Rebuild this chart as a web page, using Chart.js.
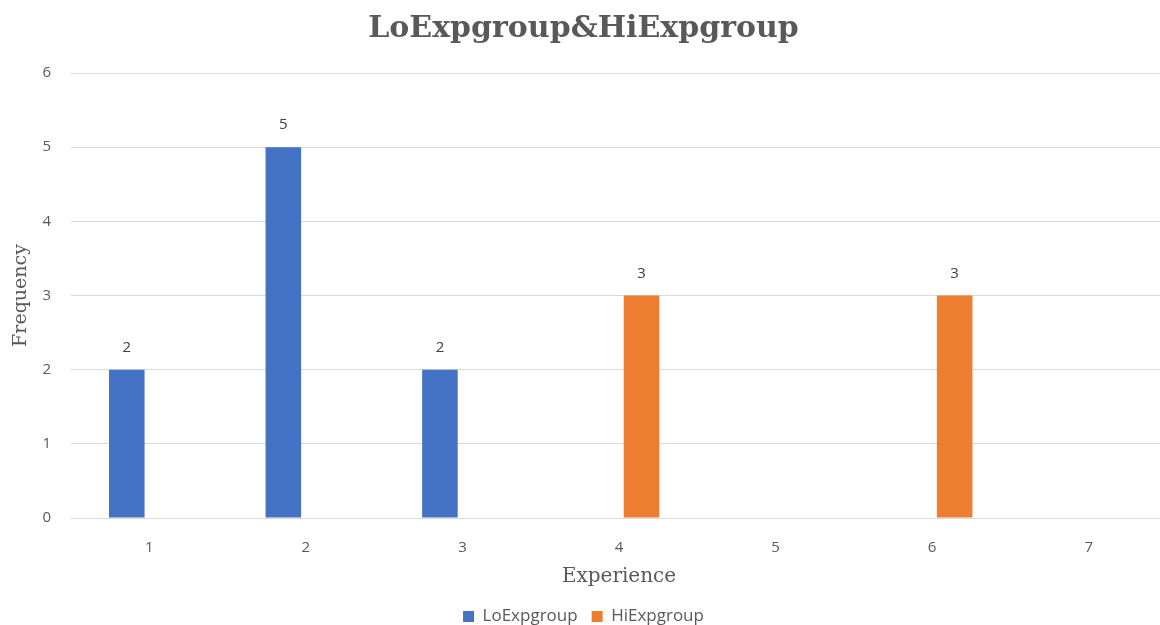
<!DOCTYPE html>
<html>
<head>
<meta charset="utf-8">
<script src="https://cdn.jsdelivr.net/npm/chart.js@4.4.1/dist/chart.umd.min.js"></script>
<style>
  html, body { margin: 0; padding: 0; background: #fff; overflow: hidden; }
  #wrap { position: relative; width: 1168px; height: 636px; }
</style>
</head>
<body>
<div id="wrap"><canvas id="c"></canvas></div>
<script>
// Experience levels on the x axis
const categories = ['1', '2', '3', '4', '5', '6', '7'];
// Frequency per experience level for each group
const loExpValues = [2, 5, 2, null, null, null, null];
const hiExpValues = [null, null, null, 3, null, 3, null];
const yTicks = [0, 1, 2, 3, 4, 5, 6];

const textColor = '#595959';
const sansFont = "'Open Sans', 'Noto Sans', sans-serif";
const serifFont = "'DejaVu Serif', 'Liberation Serif', serif";

// Writes each bar's value just above it
const valueLabels = {
  id: 'valueLabels',
  afterDatasetsDraw(chart) {
    const ctx = chart.ctx;
    ctx.save();
    ctx.fillStyle = '#404040';
    ctx.font = '15px ' + sansFont;
    ctx.textAlign = 'center';
    ctx.textBaseline = 'middle';
    chart.data.datasets.forEach((ds, i) => {
      const meta = chart.getDatasetMeta(i);
      meta.data.forEach((bar, j) => {
        const v = ds.data[j];
        if (v === null || v === undefined) return;
        ctx.fillText(String(v), bar.x, bar.y - 22);
      });
    });
    ctx.restore();
  }
};

new Chart(document.getElementById('c'), {
  type: 'bar',
  data: {
    labels: categories,
    datasets: [
      { label: 'LoExpgroup', data: loExpValues, backgroundColor: '#4472C4' },
      { label: 'HiExpgroup', data: hiExpValues, backgroundColor: '#ED7D31' }
    ]
  },
  options: {
    responsive: true,
    maintainAspectRatio: false,
    animation: false,
    devicePixelRatio: 1,
    layout: { padding: { left: 0, right: 1, top: 0, bottom: 1 } },
    datasets: { bar: { categoryPercentage: 0.575, barPercentage: 0.79 } },
    plugins: {
      tooltip: { enabled: false },
      title: {
        display: true,
        text: 'LoExpgroup&HiExpgroup',
        color: textColor,
        font: { family: serifFont, size: 30, weight: 'bold' },
        padding: { top: 11, bottom: 26 }
      },
      legend: {
        position: 'bottom',
        labels: {
          color: textColor,
          font: { family: sansFont, size: 17 },
          boxWidth: 11,
          boxHeight: 11,
          padding: 14
        }
      }
    },
    scales: {
      x: {
        afterFit(scale) { scale.height = 76; },
        grid: { display: false },
        border: { display: true, color: '#D9D9D9' },
        ticks: { color: textColor, font: { family: sansFont, size: 15 }, padding: 13 },
        title: {
          display: true,
          text: 'Experience',
          color: textColor,
          font: { family: serifFont, size: 20 },
          padding: { top: 4, bottom: 5 }
        }
      },
      y: {
        min: 0,
        max: 6,
        afterBuildTicks(scale) { scale.ticks = yTicks.map(v => ({ value: v })); },
        afterFit(scale) { scale.width = 71; },
        grid: { color: '#D9D9D9', drawTicks: false },
        border: { display: false },
        ticks: { color: textColor, font: { family: sansFont, size: 15 }, padding: 20 },
        title: {
          display: true,
          text: 'Frequency',
          color: textColor,
          font: { family: serifFont, size: 19 },
          padding: { top: 10, bottom: 0 }
        }
      }
    }
  },
  plugins: [valueLabels]
});
</script>
</body>
</html>
